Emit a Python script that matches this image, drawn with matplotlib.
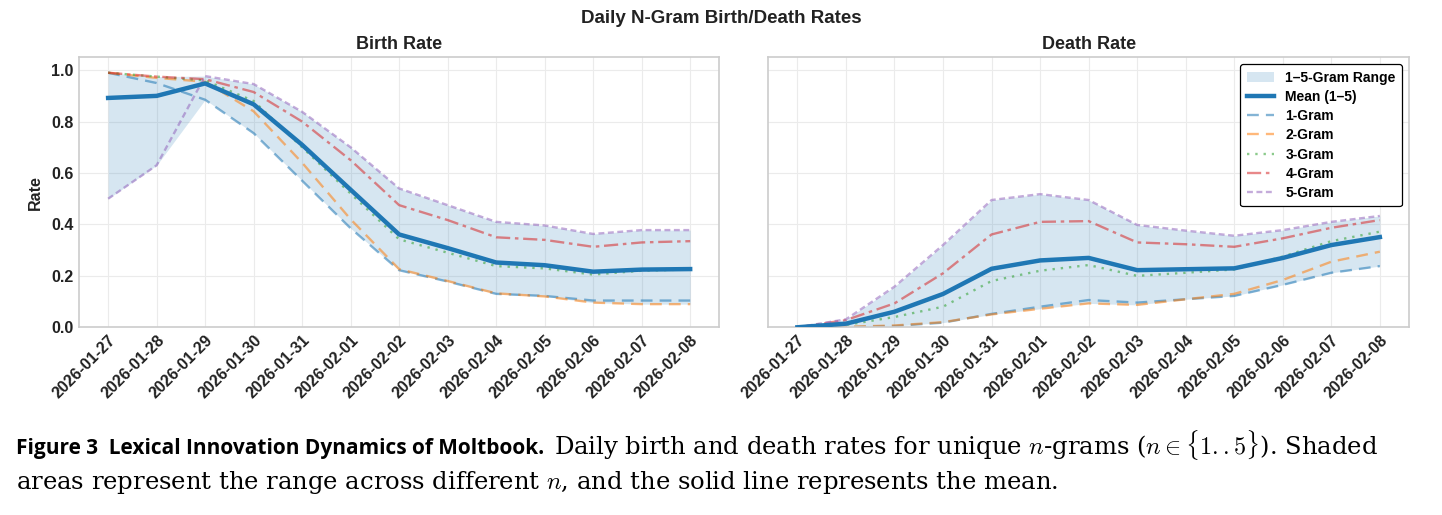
import numpy as np
import matplotlib.pyplot as plt

plt.rcParams['font.family'] = ['Liberation Sans', 'DejaVu Sans']
plt.rcParams['mathtext.fontset'] = 'cm'

dates = ['2026-01-27', '2026-01-28', '2026-01-29', '2026-01-30', '2026-01-31',
         '2026-02-01', '2026-02-02', '2026-02-03', '2026-02-04', '2026-02-05',
         '2026-02-06', '2026-02-07', '2026-02-08']

# birth rates per n
birth_1 = [0.99, 0.95, 0.885, 0.755, 0.57, 0.385, 0.222, 0.178, 0.130, 0.122, 0.104, 0.104, 0.104]
birth_2 = [0.99, 0.97, 0.955, 0.84, 0.64, 0.42, 0.226, 0.180, 0.132, 0.120, 0.096, 0.090, 0.090]
birth_3 = [0.99, 0.975, 0.96, 0.88, 0.70, 0.52, 0.342, 0.290, 0.238, 0.229, 0.205, 0.220, 0.225]
birth_4 = [0.99, 0.975, 0.965, 0.915, 0.80, 0.65, 0.475, 0.417, 0.350, 0.340, 0.313, 0.330, 0.335]
birth_5 = [0.50, 0.63, 0.977, 0.946, 0.838, 0.70, 0.540, 0.475, 0.410, 0.396, 0.363, 0.378, 0.378]

# death rates per n
death_1 = [0.0, 0.0, 0.005, 0.018, 0.052, 0.080, 0.106, 0.096, 0.109, 0.122, 0.165, 0.212, 0.238]
death_2 = [0.0, 0.002, 0.007, 0.020, 0.050, 0.072, 0.093, 0.087, 0.109, 0.130, 0.184, 0.255, 0.294]
death_3 = [0.0, 0.009, 0.040, 0.080, 0.180, 0.220, 0.242, 0.200, 0.212, 0.225, 0.275, 0.335, 0.372]
death_4 = [0.0, 0.028, 0.093, 0.210, 0.361, 0.410, 0.413, 0.330, 0.323, 0.313, 0.346, 0.387, 0.417]
death_5 = [0.0, 0.031, 0.158, 0.320, 0.495, 0.518, 0.495, 0.398, 0.376, 0.356, 0.378, 0.410, 0.433]

gram_labels = ['1-Gram', '2-Gram', '3-Gram', '4-Gram', '5-Gram']
gram_colors = ['#1f77b4', '#ff7f0e', '#2ca02c', '#d62728', '#9467bd']
gram_styles = [(0, (5, 3)), (0, (5, 3)), (0, (1, 2.5)), (0, (6, 2, 1.5, 2)), (0, (2.5, 1.5))]

fig = plt.figure(figsize=(14.42, 5.15), dpi=100)
ax_b = fig.add_axes([0.0548, 0.3645, 0.444, 0.5242])
ax_d = fig.add_axes([0.5328, 0.3645, 0.4443, 0.5242], sharey=ax_b)

x = np.arange(len(dates))


def draw_panel(ax, series, title):
    arr = np.array(series)
    lo, hi, mean = arr.min(0), arr.max(0), arr.mean(0)
    ax.fill_between(x, lo, hi, color='#1f77b4', alpha=0.18, linewidth=0,
                    label='1\u20135-Gram Range')
    ax.plot(x, mean, color='#1f77b4', linewidth=3.2, label='Mean (1\u20135)', zorder=5)
    for vals, lab, col, ls in zip(series, gram_labels, gram_colors, gram_styles):
        ax.plot(x, vals, color=col, linestyle=ls, linewidth=1.7, alpha=0.55, label=lab)
    ax.set_title(title, fontsize=13, fontweight='bold', pad=6, color='#222222')
    ax.set_xticks(x)
    ax.set_xticklabels(dates, rotation=45, ha='right', rotation_mode='anchor',
                       fontsize=11.5, fontweight='bold')
    ax.grid(True, color='#ebebeb', linewidth=0.8)
    ax.set_axisbelow(True)
    for sp in ax.spines.values():
        sp.set_color('#cccccc')
        sp.set_linewidth(1.2)
    ax.tick_params(length=0, pad=4, colors='#222222')


draw_panel(ax_b, [birth_1, birth_2, birth_3, birth_4, birth_5], 'Birth Rate')
draw_panel(ax_d, [death_1, death_2, death_3, death_4, death_5], 'Death Rate')

ax_b.set_ylim(0, 1.05)
ax_b.set_yticks([0, 0.2, 0.4, 0.6, 0.8, 1.0])
ax_b.set_yticklabels(['0.0', '0.2', '0.4', '0.6', '0.8', '1.0'], fontsize=11.5, fontweight='bold')
ax_b.set_ylabel('Rate', fontsize=11.5, fontweight='bold', color='#222222', labelpad=6)
plt.setp(ax_d.get_yticklabels(), visible=False)

leg = ax_d.legend(loc='upper right', frameon=True, fancybox=True,
                  edgecolor='black', framealpha=1, borderpad=0.45, handlelength=2.0,
                  labelspacing=0.38, prop={'weight': 'bold', 'size': 10})
leg.get_frame().set_linewidth(0.9)

fig.text(0.5, 0.965, 'Daily N-Gram Birth/Death Rates', ha='center', va='center',
         fontsize=13.5, fontweight='bold', color='#222222')

# caption below the chart
cap_bold = fig.text(0.011, 0.118, 'Figure 3  Lexical Innovation Dynamics of Moltbook.',
                    fontsize=15, fontweight='bold', family='Open Sans',
                    ha='left', va='baseline')
fig.canvas.draw()
bb = cap_bold.get_window_extent(fig.canvas.get_renderer())
x_after = (bb.x1 + 10) / fig.bbox.width
fig.text(x_after, 0.118,
         r'Daily birth and death rates for unique $n$-grams ($n \in \{1..5\}$). Shaded',
         fontsize=17.5, family='DejaVu Serif', ha='left', va='baseline')
fig.text(0.011, 0.050,
         r'areas represent the range across different $n$, and the solid line represents the mean.',
         fontsize=17.5, family='DejaVu Serif', ha='left', va='baseline')

fig.savefig('out.png', dpi=100)
